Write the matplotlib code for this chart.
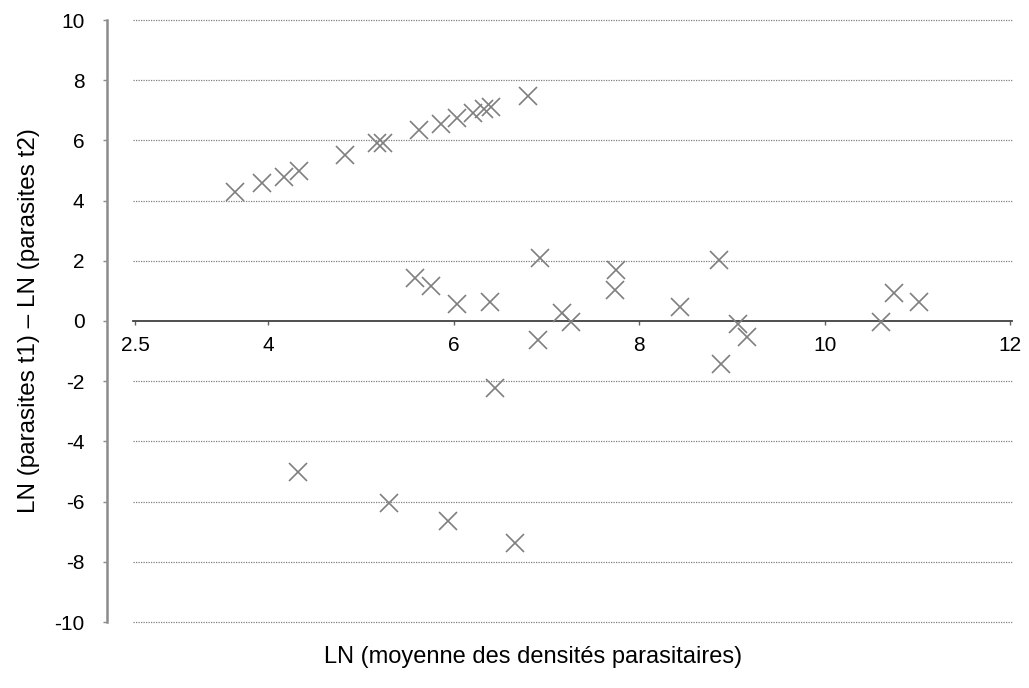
import matplotlib
matplotlib.use("Agg")
import matplotlib.pyplot as plt

plt.rcParams['font.family'] = ['Liberation Sans', 'DejaVu Sans']
plt.rcParams['axes.unicode_minus'] = False

# LN mean density (x) vs LN difference t1 - t2 (y)
x_mean = [3.64, 3.94, 4.17, 4.33, 4.83, 5.18, 5.24, 5.63, 5.87, 6.04, 6.21, 6.33, 6.40, 6.80,
          5.58, 5.76, 6.04, 6.39, 6.93, 6.91, 7.17, 7.27, 7.75, 7.74, 8.44, 6.45,
          4.32, 5.30, 5.94, 6.66,
          8.86, 9.07, 9.16, 8.88, 10.61, 10.75, 11.02]
y_diff = [4.30, 4.57, 4.80, 5.00, 5.53, 5.90, 5.90, 6.33, 6.53, 6.73, 6.90, 7.03, 7.10, 7.47,
          1.43, 1.17, 0.57, 0.63, 2.10, -0.63, 0.27, -0.03, 1.70, 1.03, 0.47, -2.23,
          -5.03, -6.03, -6.63, -7.37,
          2.03, -0.10, -0.53, -1.43, -0.03, 0.93, 0.63]

x_ticks = [2.57, 4, 6, 8, 10, 12]
x_ticklabels = ['2.5', '4', '6', '8', '10', '12']
y_ticks = list(range(-10, 11, 2))

fig = plt.figure(figsize=(10.29, 6.88), dpi=100)
ax = fig.add_axes([133/1029, 66/688, 879/1029, 602/688])

ax.set_xlim(2.545, 12.02)
ax.set_ylim(-10, 10)

# dotted gridlines
for yv in y_ticks:
    if yv != 0:
        ax.axhline(yv, color='#808080', lw=0.9, ls=(0, (1, 1)), zorder=1, clip_on=False)

ax.plot(x_mean, y_diff, 'x', color='#7f7f7f', markersize=13, markeredgewidth=1.2, zorder=3)

# x axis crossing at y = 0
for s in ['top', 'right']:
    ax.spines[s].set_visible(False)
ax.spines['bottom'].set_position(('data', 0))
ax.spines['bottom'].set_color('#404040')
ax.spines['bottom'].set_linewidth(1.3)
ax.spines['left'].set_position(('outward', 19))
ax.spines['left'].set_color('#8c8c8c')
ax.spines['left'].set_linewidth(1.8)

ax.set_xticks(x_ticks)
ax.set_xticklabels(x_ticklabels)
ax.set_yticks(y_ticks)
ax.tick_params(axis='x', direction='out', length=3, width=1, color='#606060', pad=8, labelsize=15)
ax.tick_params(axis='y', direction='out', length=3, width=1, color='#8c8c8c', pad=13, labelsize=15)

ax.set_ylabel('LN (parasites t1) – LN (parasites t2)', fontsize=17.5)
ax.yaxis.set_label_coords(-0.106, 0.5)
fig.text(0.518, 0.045, 'LN (moyenne des densités parasitaires)', fontsize=17, ha='center', va='center')

fig.savefig('out.png', dpi=100)
